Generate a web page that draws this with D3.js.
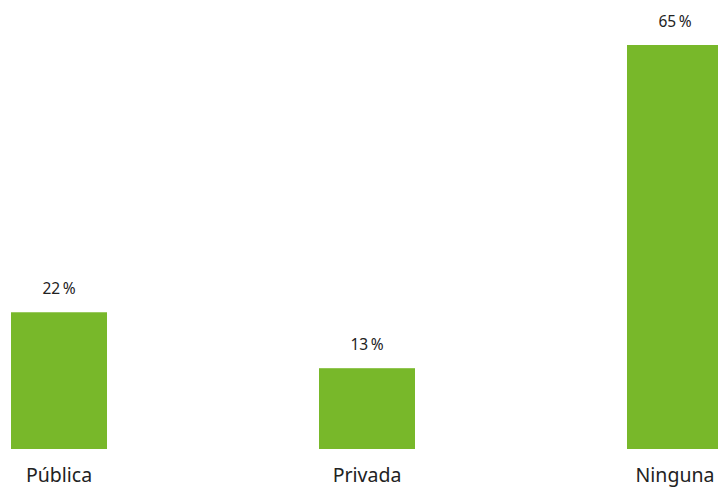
<!DOCTYPE html>
<html>
<head>
<meta charset="utf-8">
<script src="https://cdn.jsdelivr.net/npm/d3@7"></script>
<style>
  html, body { margin: 0; padding: 0; background: #fff; }
  svg { display: block; }
  text { font-family: "Noto Sans", Lato, sans-serif; fill: #222; }
</style>
</head>
<body>
<svg id="chart" width="718" height="488"></svg>
<script>
// Tipo de cobertura
const categories = ["Pública", "Privada", "Ninguna"];
const values = [22, 13, 65];

const svg = d3.select("#chart");

const x = d3.scaleBand()
  .domain(categories)
  .range([11, 723])
  .paddingInner(0.6883)
  .paddingOuter(0);

const y = d3.scaleLinear()
  .domain([0, d3.max(values)])
  .range([449, 45]);

const data = categories.map((c, i) => ({ cat: c, val: values[i] }));

svg.selectAll("rect.bar")
  .data(data)
  .join("rect")
  .attr("class", "bar")
  .attr("x", d => x(d.cat))
  .attr("y", d => y(d.val))
  .attr("width", x.bandwidth())
  .attr("height", d => y(0) - y(d.val))
  .attr("fill", "#78b82a");

svg.selectAll("text.value")
  .data(data)
  .join("text")
  .attr("class", "value")
  .attr("x", d => x(d.cat) + x.bandwidth() / 2)
  .attr("y", d => y(d.val) - 18)
  .attr("text-anchor", "middle")
  .attr("font-size", 15.5)
  .text(d => d.val + "\u2009%");

svg.selectAll("text.cat")
  .data(data)
  .join("text")
  .attr("class", "cat")
  .attr("x", d => x(d.cat) + x.bandwidth() / 2)
  .attr("y", 482)
  .attr("text-anchor", "middle")
  .attr("font-size", 19.5)
  .text(d => d.cat);
</script>
</body>
</html>
